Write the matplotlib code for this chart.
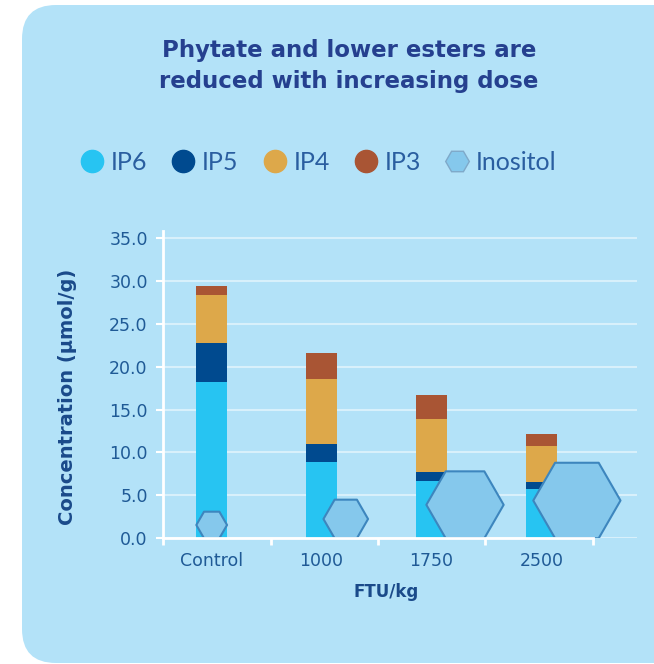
import numpy as np
import matplotlib
matplotlib.use("Agg")
import matplotlib.pyplot as plt
from matplotlib.patches import FancyBboxPatch
from matplotlib.lines import Line2D

plt.rcParams['font.family'] = ['DejaVu Sans']

# data (umol/g)
doses = ['Control', '1000', '1750', '2500']
ip6 = [18.2, 8.9, 6.7, 5.75]
ip5 = [4.6, 2.1, 1.05, 0.8]
ip4 = [5.5, 7.5, 6.15, 4.25]
ip3 = [1.1, 3.1, 2.8, 1.4]
inositol = [1.55, 2.25, 3.9, 4.4]

colors = {'IP6': '#27C4F2', 'IP5': '#004A8F', 'IP4': '#DDA84A', 'IP3': '#A95534'}
hex_fill = '#85C8EC'
hex_edge = '#3D86BE'
bg = '#B3E2F8'
text_blue = '#1F5A96'
title_blue = '#25408F'

W, H = 654, 664
fig = plt.figure(figsize=(W / 100, H / 100), dpi=100)
fig.patch.set_facecolor('white')

# rounded panel background, drawn in pixel units
bg_ax = fig.add_axes([0, 0, 1, 1], zorder=-1)
bg_ax.set_xlim(0, W)
bg_ax.set_ylim(H, 0)
bg_ax.axis('off')
bg_ax.add_patch(FancyBboxPatch((22, 5), 700, 658, boxstyle='round,pad=0,rounding_size=34',
                               facecolor=bg, edgecolor='none'))

ymax = 35.8
ax = fig.add_axes([163 / W, 1 - 538.3 / H, 474 / W, (538.3 - 231) / H])
ax.set_facecolor('none')

x = np.arange(len(doses))
bw = 0.28
bottom = np.zeros(len(doses))
for name, vals in [('IP6', ip6), ('IP5', ip5), ('IP4', ip4), ('IP3', ip3)]:
    ax.bar(x, vals, bw, bottom=bottom, color=colors[name], zorder=3)
    bottom += np.array(vals)

# inositol hexagons sit on the baseline, centred at the value
ax.set_ylim(0, ymax)
ax.set_xlim(-0.443, 3.87)
px_per_unit = (538.3 - 231) / ymax
hex_dx = [0, 0.22, 0.305, 0.323]
sizes = []
for v in inositol:
    r_pt = v * px_per_unit * 2 / np.sqrt(3) * 0.72
    sizes.append((2 * r_pt) ** 2)
ax.scatter(x + np.array(hex_dx), inositol, s=sizes, marker='H', facecolor=hex_fill,
           edgecolor=hex_edge, linewidth=1.5, zorder=4)

# axes styling
ax.set_yticks(np.arange(0, 36, 5))
ax.set_yticklabels([f'{t:.1f}' for t in np.arange(0, 36, 5)])
ax.set_xticks(x)
ax.set_xticklabels(doses)
ax.set_xticks(np.array([-0.443, 0.537, 1.517, 2.49, 3.47]), minor=True)
ax.tick_params(axis='x', which='major', length=0, pad=10, labelsize=12.5, labelcolor=text_blue)
ax.tick_params(axis='x', which='minor', length=5, width=2, color='white', direction='out')
ax.tick_params(axis='y', length=5, width=1.5, color='white', pad=6, labelsize=12.5,
               labelcolor=text_blue)
ax.grid(axis='y', color='#D8F0FB', linewidth=1.5, zorder=0)
for s in ['top', 'right']:
    ax.spines[s].set_visible(False)
for s in ['left', 'bottom']:
    ax.spines[s].set_color('white')
    ax.spines[s].set_linewidth(2)
    ax.spines[s].set_zorder(5)
ax.spines['bottom'].set_bounds(-0.443, 3.47)

ax.set_ylabel('Concentration (µmol/g)', fontsize=14, fontweight='bold', color='#1A4A8A')
ax.yaxis.set_label_coords(-0.181, 0.46)
ax.set_xlabel('FTU/kg', fontsize=12, fontweight='bold', color='#1A4A8A')
ax.xaxis.set_label_coords(0.47, -0.145)

fig.text(349 / W, 1 - 66 / H, 'Phytate and lower esters are\nreduced with increasing dose',
         ha='center', va='center', fontsize=16.5, fontweight='bold', color=title_blue,
         linespacing=1.4)

handles = [Line2D([], [], ls='', marker='o', markersize=16, markerfacecolor=colors[k],
                  markeredgecolor=colors[k]) for k in ['IP6', 'IP5', 'IP4', 'IP3']]
handles.append(Line2D([], [], ls='', marker='H', markersize=17, markerfacecolor=hex_fill,
                      markeredgecolor='#7FA9C9', markeredgewidth=1))
leg = fig.legend(handles, ['IP6', 'IP5', 'IP4', 'IP3', 'Inositol'], ncol=5,
                 loc='center', bbox_to_anchor=(318 / W, 1 - 162 / H), frameon=False,
                 handlelength=1.0, handletextpad=0.25, columnspacing=0.95,
                 labelcolor='#2A5EA0', prop={'family': 'Lato', 'size': 18})

fig.savefig('out.png', dpi=100)
